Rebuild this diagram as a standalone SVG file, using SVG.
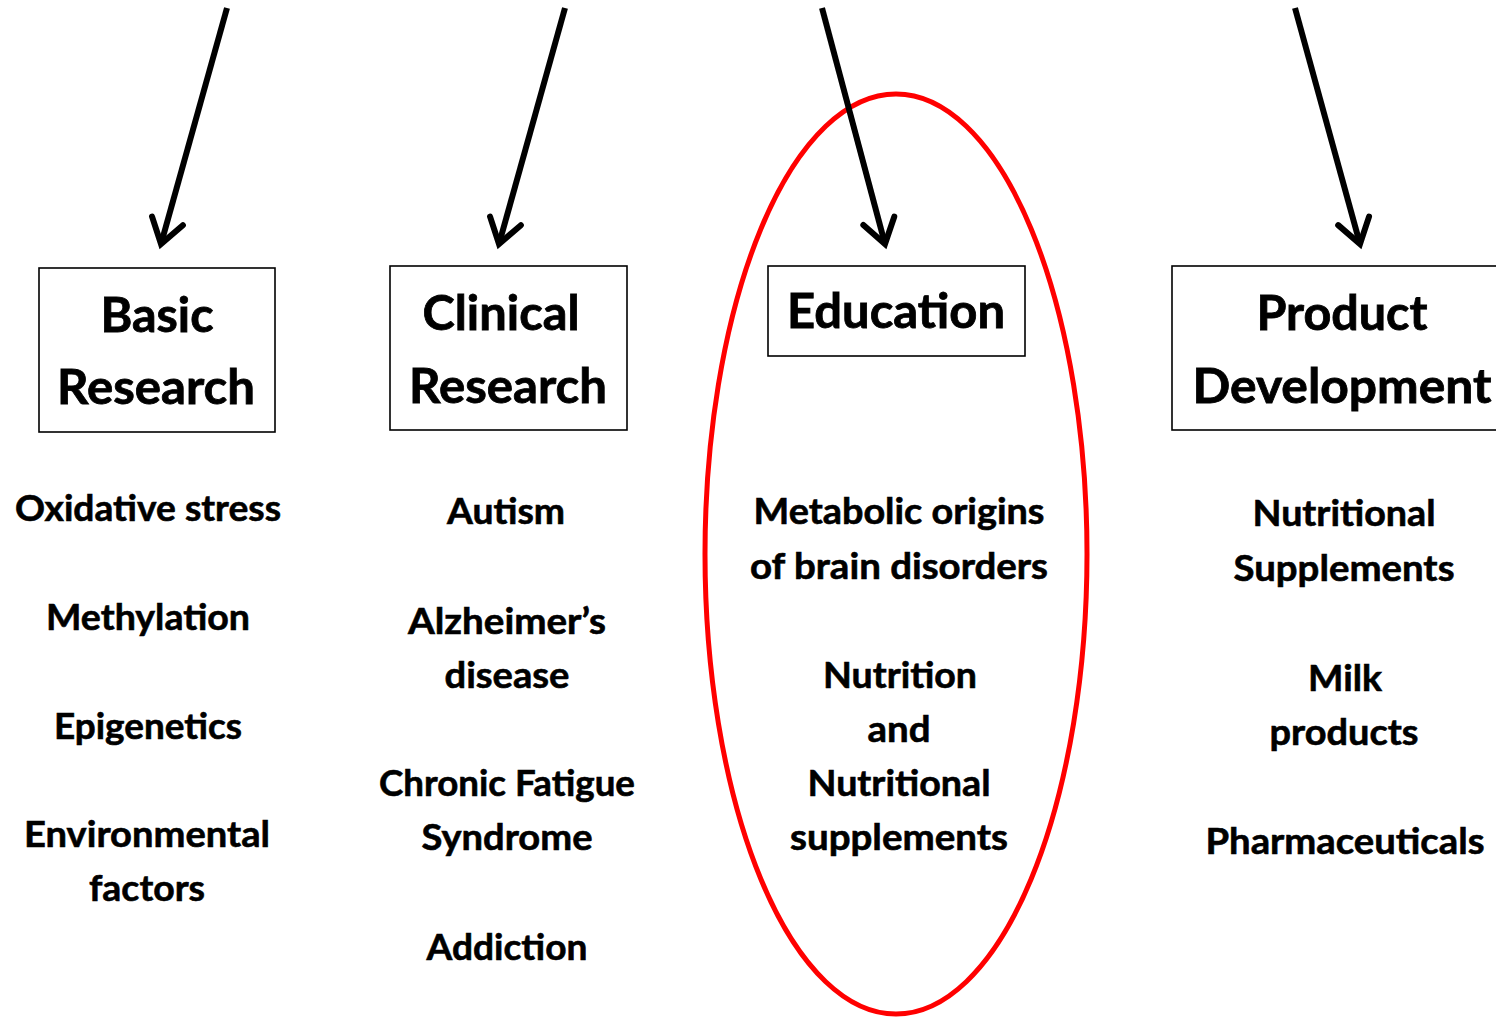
<svg xmlns="http://www.w3.org/2000/svg" width="1496" height="1017" viewBox="0 0 1496 1017">
<style>
.box{fill:#fff;stroke:#000;stroke-width:1.6}
.h{font-family:Lato,"Liberation Sans",sans-serif;font-weight:bold;font-size:48px;fill:#000;stroke:#000;stroke-width:0.8;text-anchor:middle}
.t{font-family:Lato,"Liberation Sans",sans-serif;font-weight:bold;font-size:37px;fill:#000;stroke:#000;stroke-width:0.6;text-anchor:middle}
.arr{stroke:#000;stroke-width:6;fill:none;marker-end:url(#chev)}
</style>
<defs>
<marker id="chev" markerUnits="userSpaceOnUse" viewBox="-30 -22 36 44" refX="0" refY="0" markerWidth="36" markerHeight="44" orient="auto">
<path d="M -24 -16 L 0 0 L -24 16" fill="none" stroke="#000" stroke-width="6" stroke-linecap="round" stroke-linejoin="miter"/>
</marker>
</defs>
<rect width="1496" height="1017" fill="#fff"/>
<ellipse id="highlight" cx="896" cy="554" rx="191" ry="460" fill="none" stroke="#ff0000" stroke-width="5"/>
<g id="connectors">
<line class="arr" x1="227" y1="8" x2="161" y2="244"/>
<line class="arr" x1="565" y1="8" x2="499" y2="244"/>
<line class="arr" x1="822" y1="8" x2="885" y2="244"/>
<line class="arr" x1="1295" y1="8" x2="1360" y2="244"/>
</g>
<g id="basic-research">
<rect class="box" x="39" y="268" width="236" height="164"/>
<text class="h" x="157" y="332" textLength="113" lengthAdjust="spacingAndGlyphs">Basic</text>
<text class="h" x="156" y="404" textLength="198" lengthAdjust="spacingAndGlyphs">Research</text>
</g>
<g id="clinical-research">
<rect class="box" x="390" y="266" width="237" height="164"/>
<text class="h" x="501" y="330" textLength="157" lengthAdjust="spacingAndGlyphs">Clinical</text>
<text class="h" x="508" y="403" textLength="198" lengthAdjust="spacingAndGlyphs">Research</text>
</g>
<g id="education">
<rect class="box" x="768" y="266" width="257" height="90"/>
<text class="h" x="896" y="328" textLength="218" lengthAdjust="spacingAndGlyphs">Education</text>
</g>
<g id="product-development">
<rect class="box" x="1172" y="266" width="340" height="164"/>
<text class="h" x="1342" y="330" textLength="171" lengthAdjust="spacingAndGlyphs">Product</text>
<text class="h" x="1342" y="403" textLength="299" lengthAdjust="spacingAndGlyphs">Development</text>
</g>
<g id="basic-items">
<text class="t" x="148" y="521" textLength="266" lengthAdjust="spacingAndGlyphs">Oxidative stress</text>
<text class="t" x="148" y="630" textLength="204" lengthAdjust="spacingAndGlyphs">Methylation</text>
<text class="t" x="148" y="739" textLength="188" lengthAdjust="spacingAndGlyphs">Epigenetics</text>
<text class="t" x="147" y="847" textLength="246" lengthAdjust="spacingAndGlyphs">Environmental</text>
<text class="t" x="147" y="901" textLength="116" lengthAdjust="spacingAndGlyphs">factors</text>
</g>
<g id="clinical-items">
<text class="t" x="506" y="524" textLength="118" lengthAdjust="spacingAndGlyphs">Autism</text>
<text class="t" x="507" y="634" textLength="198" lengthAdjust="spacingAndGlyphs">Alzheimer’s</text>
<text class="t" x="507" y="688" textLength="125" lengthAdjust="spacingAndGlyphs">disease</text>
<text class="t" x="507" y="796" textLength="256" lengthAdjust="spacingAndGlyphs">Chronic Fatigue</text>
<text class="t" x="507" y="850" textLength="171" lengthAdjust="spacingAndGlyphs">Syndrome</text>
<text class="t" x="507" y="960" textLength="161" lengthAdjust="spacingAndGlyphs">Addiction</text>
</g>
<g id="education-items">
<text class="t" x="899" y="524" textLength="291" lengthAdjust="spacingAndGlyphs">Metabolic origins</text>
<text class="t" x="899" y="579" textLength="298" lengthAdjust="spacingAndGlyphs">of brain disorders</text>
<text class="t" x="900" y="688" textLength="154" lengthAdjust="spacingAndGlyphs">Nutrition</text>
<text class="t" x="899" y="742" textLength="63" lengthAdjust="spacingAndGlyphs">and</text>
<text class="t" x="899" y="796" textLength="183" lengthAdjust="spacingAndGlyphs">Nutritional</text>
<text class="t" x="899" y="850" textLength="218" lengthAdjust="spacingAndGlyphs">supplements</text>
</g>
<g id="product-items">
<text class="t" x="1344" y="526" textLength="183" lengthAdjust="spacingAndGlyphs">Nutritional</text>
<text class="t" x="1344" y="581" textLength="221" lengthAdjust="spacingAndGlyphs">Supplements</text>
<text class="t" x="1345" y="691" textLength="74" lengthAdjust="spacingAndGlyphs">Milk</text>
<text class="t" x="1344" y="745" textLength="149" lengthAdjust="spacingAndGlyphs">products</text>
<text class="t" x="1345" y="854" textLength="279" lengthAdjust="spacingAndGlyphs">Pharmaceuticals</text>
</g>
</svg>
